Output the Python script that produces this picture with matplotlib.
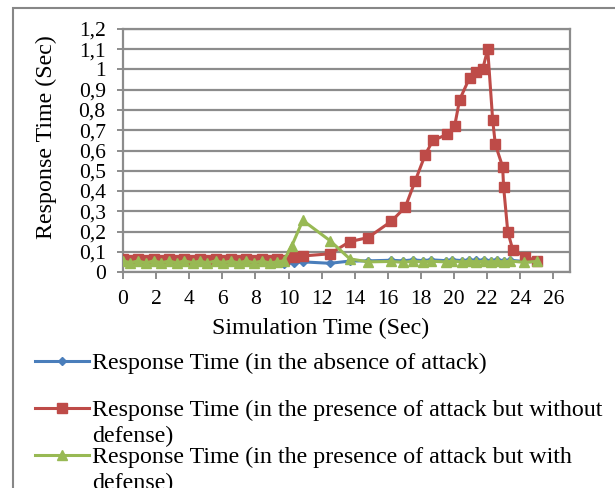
import matplotlib
matplotlib.use("Agg")
import matplotlib.pyplot as plt
from matplotlib.lines import Line2D
from matplotlib.patches import Rectangle

plt.rcParams["font.family"] = ["Liberation Serif", "DejaVu Serif"]

# simulation time (sec) for the quiet start, shared by all three runs
t_start = [0.0, 0.45, 0.9, 1.4, 1.85, 2.3, 2.8, 3.25, 3.7, 4.2, 4.65,
           5.1, 5.6, 6.05, 6.5, 7.0, 7.45, 7.9, 8.4, 8.85, 9.3, 9.7]

t_normal = t_start + [10.3, 10.86, 12.5, 13.7, 14.8, 16.2, 16.9, 17.5, 18.1, 18.6,
                      19.5, 19.9, 20.5, 20.9, 21.3, 21.8, 22.2, 22.6, 23.0, 23.4,
                      24.2, 25.0]
rt_normal = [0.05, 0.052, 0.049, 0.052, 0.05, 0.052, 0.049, 0.052, 0.05, 0.052, 0.049,
             0.052, 0.05, 0.052, 0.049, 0.052, 0.05, 0.051, 0.048, 0.046, 0.042, 0.04,
             0.045, 0.05, 0.043, 0.054, 0.055, 0.058, 0.055, 0.06, 0.056, 0.06,
             0.056, 0.06, 0.056, 0.06, 0.057, 0.06, 0.056, 0.06, 0.056, 0.058,
             0.052, 0.05]

t_attack = t_start + [10.3, 10.86, 12.5, 13.7, 14.8, 16.2, 17.05, 17.65, 18.26, 18.72,
                      19.6, 20.03, 20.33, 20.94, 21.32, 21.72, 22.03, 22.33, 22.49,
                      22.93, 22.99, 23.24, 23.54, 24.3, 25.0]
rt_attack = [0.065, 0.058, 0.066, 0.059, 0.065, 0.058, 0.066, 0.059, 0.065, 0.058, 0.066,
             0.059, 0.065, 0.058, 0.066, 0.059, 0.065, 0.058, 0.066, 0.059, 0.064, 0.06,
             0.072, 0.079, 0.09, 0.15, 0.17, 0.25, 0.32, 0.45, 0.58, 0.65,
             0.68, 0.72, 0.85, 0.96, 0.99, 1.0, 1.10, 0.75, 0.63,
             0.52, 0.42, 0.20, 0.11, 0.075, 0.055]

t_defense = t_start + [10.2, 10.86, 12.5, 13.7, 14.8, 16.2, 16.9, 17.5, 18.1, 18.6,
                       19.5, 19.9, 20.5, 20.9, 21.3, 21.8, 22.2, 22.6, 23.0, 23.4,
                       24.2, 25.0]
rt_defense = [0.055, 0.046, 0.054, 0.045, 0.055, 0.046, 0.054, 0.045, 0.055, 0.046, 0.054,
              0.045, 0.055, 0.046, 0.054, 0.045, 0.055, 0.046, 0.054, 0.045, 0.05, 0.055,
              0.13, 0.255, 0.155, 0.065, 0.05, 0.052, 0.048, 0.053, 0.05, 0.053,
              0.05, 0.054, 0.049, 0.054, 0.05, 0.053, 0.049, 0.053, 0.05, 0.054,
              0.048, 0.052]

labels = [
    "Response Time (in the absence of attack)",
    "Response Time (in the presence of attack but without\ndefense)",
    "Response Time (in the presence of attack but with\ndefense)",
]
yticks = [0, 0.1, 0.2, 0.3, 0.4, 0.5, 0.6, 0.7, 0.8, 0.9, 1.0, 1.1, 1.2]
xticks = list(range(0, 27, 2))

blue, red, green = "#4a7ebb", "#be4b48", "#98b954"
grid_c = "#8c8c8c"
fs_tick = 15.5
fs_lab = 17.3

fig = plt.figure(figsize=(6.15, 4.88), dpi=100)
ax = fig.add_axes([123 / 615, 1 - 272 / 488, 447 / 615, 243 / 488])

series = [
    (t_normal, rt_normal, blue, "D", 4.5),
    (t_attack, rt_attack, red, "s", 7),
    (t_defense, rt_defense, green, "^", 7),
]
for x, y, c, m, ms in series:
    ax.plot(x, y, color=c, lw=2.2, marker=m, ms=ms, mec=c, mfc=c, zorder=3)

ax.set_xlim(0, 27)
ax.set_ylim(0, 1.2)
ax.set_xticks(xticks)
ax.set_xticklabels([str(v) for v in xticks], fontsize=fs_tick)
ax.set_yticks(yticks)
ax.set_yticklabels([f"{v:g}".replace(".", ",") for v in yticks], fontsize=fs_tick)
ax.yaxis.grid(True, color=grid_c, lw=1.6)
ax.set_axisbelow(True)
ax.tick_params(axis="y", direction="inout", length=9, width=1.4, color=grid_c, pad=8)
ax.tick_params(axis="x", direction="out", length=5, width=1.4, color=grid_c, pad=8)
for s in ax.spines.values():
    s.set_color(grid_c)
    s.set_linewidth(1.6)
ax.set_xlabel("Simulation Time (Sec)", fontsize=fs_lab)
ax.xaxis.set_label_coords(0.443, -0.188)
ax.set_ylabel("Response Time (Sec)", fontsize=fs_lab)
ax.yaxis.set_label_coords(-0.148, 0.556)

# chart area border
fig.add_artist(Rectangle((13 / 615, -0.1), 1.2, 1 - 8 / 488 + 0.1,
                         transform=fig.transFigure, fill=False,
                         ec="#878787", lw=1.5))

# legend below the plot
leg_y = [361, 408, 455]
markers = [("D", 4.5, blue), ("s", 7, red), ("^", 7, green)]
for yy, lab, (m, ms, c) in zip(leg_y, labels, markers):
    yf = 1 - yy / 488
    fig.add_artist(Line2D([35 / 615, 89 / 615], [yf, yf], transform=fig.transFigure,
                          color=c, lw=2.2))
    fig.add_artist(Line2D([62 / 615], [yf], transform=fig.transFigure,
                          color=c, marker=m, ms=ms, mec=c, mfc=c))
    fig.text(92 / 615, yf + 8 / 488, lab, fontsize=fs_lab, va="top", ha="left",
             linespacing=1.28)

fig.savefig("out.png", dpi=100)
